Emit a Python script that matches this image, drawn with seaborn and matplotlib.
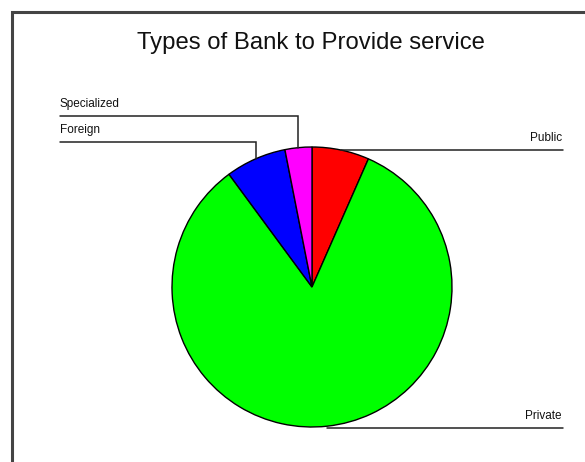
import numpy as np
import matplotlib
matplotlib.use("Agg")
import matplotlib.pyplot as plt
import seaborn as sns

# Share of respondents by type of bank
bank_types = ["Public", "Private", "Foreign", "Specialized"]
shares = [6.6, 83.3, 7.0, 3.1]
slice_colors = ["#FF0000", "#00FF00", "#0000FF", "#FF00FF"]

sns.set_theme(style="white")
plt.rcParams["font.family"] = ["Liberation Sans", "DejaVu Sans"]

W, H = 585, 462
fig = plt.figure(figsize=(W / 100, H / 100), dpi=100)
ax = fig.add_axes([0, 0, 1, 1])

cx, cy, r = 312, H - 287, 140
wedges, _ = ax.pie(
    shares,
    colors=slice_colors,
    startangle=90,
    counterclock=False,
    center=(cx, cy),
    radius=r,
    frame=True,
    wedgeprops=dict(edgecolor="black", linewidth=1.0),
)
ax.set_xlim(0, W)
ax.set_ylim(0, H)
ax.set_aspect("equal")
ax.axis("off")

# Leader line heights (pixels from top) and which side the label sits on
label_rows = {"Public": (150, "right"), "Private": (428, "right"),
              "Foreign": (142, "left"), "Specialized": (116, "left")}
left_x, right_x = 60, 563

for wedge, name in zip(wedges, bank_types):
    mid = np.deg2rad((wedge.theta1 + wedge.theta2) / 2)
    ax_x = cx + r * np.cos(mid)
    ax_y = cy + r * np.sin(mid)
    row_y, side = label_rows[name]
    ly = H - row_y
    if side == "left":
        ax.plot([left_x, ax_x, ax_x], [ly, ly, ax_y], color="#222222", lw=1.1,
                solid_joinstyle="miter")
        ax.text(left_x, ly + 6, name, ha="left", va="bottom", fontsize=8.5,
                color="#111111")
    else:
        ax.plot([ax_x, right_x], [ly, ly], color="#222222", lw=1.1)
        ax.text(right_x - 1, ly + 6, name, ha="right", va="bottom", fontsize=8.5,
                color="#111111")

ax.text(311, H - 43, "Types of Bank to Provide service", ha="center",
        va="center", fontsize=17.2, color="#111111")

# Outer frame (top and left edges visible)
ax.plot([12, 12, W + 5], [-5, H - 12, H - 12], color="#444444", lw=2.2,
        clip_on=False, solid_joinstyle="miter")

fig.savefig("out.png", dpi=100, facecolor="white")
